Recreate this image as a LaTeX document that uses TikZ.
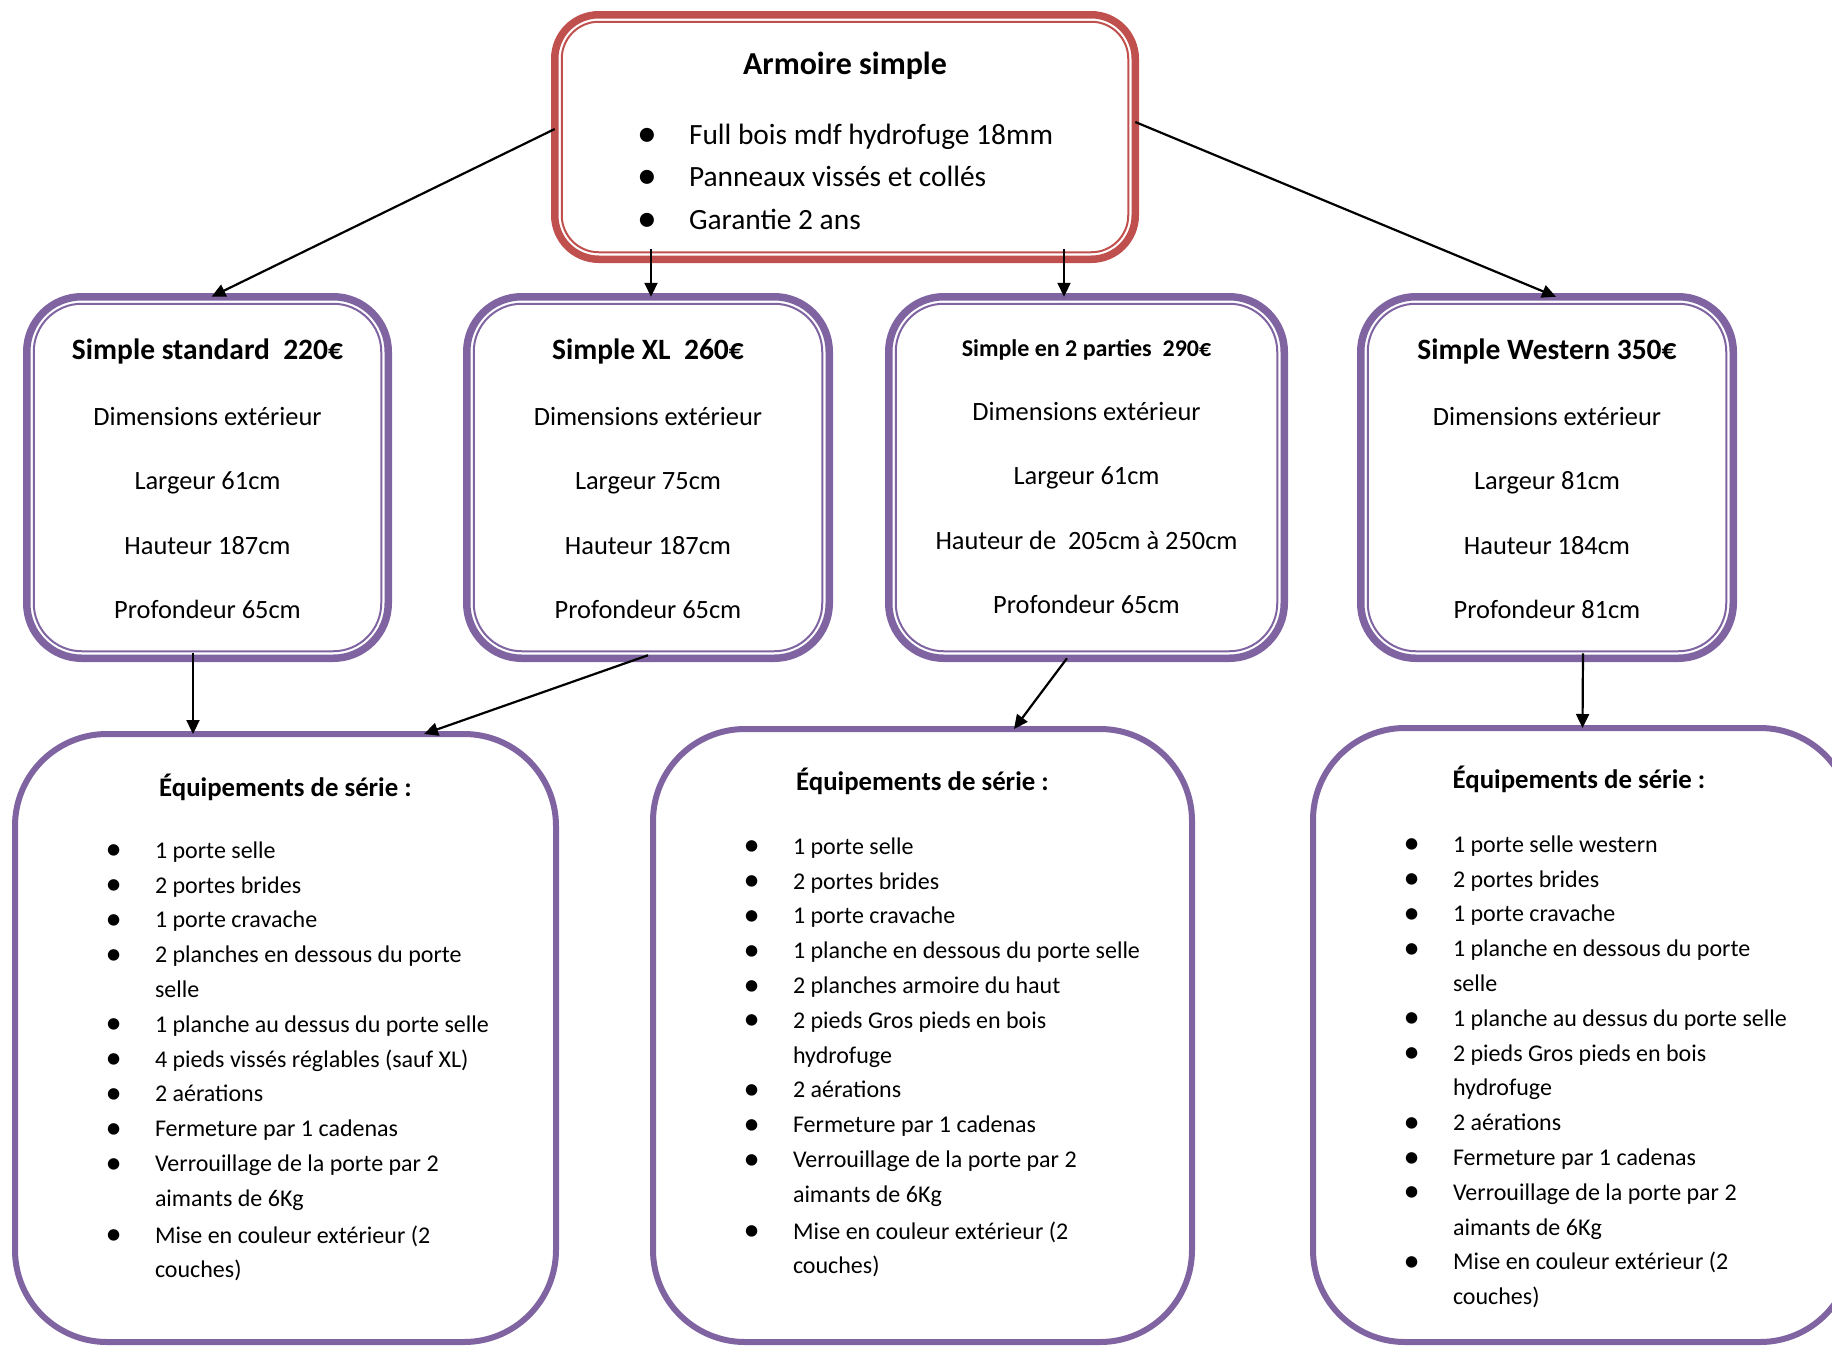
\documentclass[tikz,border=0pt]{standalone}
\usepackage{fontspec}
\setmainfont{Carlito}
\usepackage{graphicx}
\usetikzlibrary{arrows.meta,calc}
\definecolor{boxred}{HTML}{C0504D}
\definecolor{boxpurple}{HTML}{8064A2}
\newcommand{\listbul}{\raisebox{-0.06em}{\scalebox{1.35}{•}}}
\newcommand{\fsTop}{\fontsize{29.4}{42.5}\selectfont}
\newcommand{\fsMid}{\fontsize{26.4}{64.3}\selectfont}
\newcommand{\fsBot}{\fontsize{24}{34.8}\selectfont}
\begin{document}
\begin{tikzpicture}[x=1pt,y=-1pt,
  every node/.style={inner sep=0pt,outer sep=0pt},
  topbox/.style={rectangle,draw=boxred,line width=7.5pt,rounded corners=44pt},
  midbox/.style={rectangle,draw=boxpurple,line width=7.5pt,rounded corners=55pt},
  botbox/.style={rectangle,draw=boxpurple,line width=6pt,rounded corners=92pt},
  thinred/.style={draw=boxred,line width=2pt,rounded corners=37pt},
  thinpurple/.style={draw=boxpurple,line width=2pt,rounded corners=48pt},
  conn/.style={draw=black,line width=2.2pt,-{Triangle[length=14pt,width=13pt]}},
  txt/.style={anchor=mid,align=center}
]
\useasboundingbox (0,0) rectangle (1832,1347);
\clip (0,0) rectangle (1832,1347);

% ---------- boxes ----------
\node[topbox,minimum width=580.5pt,minimum height=244.5pt] (top) at (845,137) {};
\node[midbox,minimum width=361.5pt,minimum height=361.5pt] (m1) at (207.5,477.5) {};
\node[midbox,minimum width=362.5pt,minimum height=361.5pt] (m2) at (648,477.5) {};
\node[midbox,minimum width=395.5pt,minimum height=361.5pt] (m3) at (1086.5,477.5) {};
\node[midbox,minimum width=372.5pt,minimum height=361.5pt] (m4) at (1547,477.5) {};
\node[botbox,minimum width=541pt,minimum height=608pt] (b1) at (285.5,1038) {};
\node[botbox,minimum width=539pt,minimum height=613pt] (b2) at (922.5,1035.5) {};
\node[botbox,minimum width=539pt,minimum height=614pt] (b3) at (1582.5,1035) {};

% inner thin lines of the double borders
\draw[thinred] ([shift={(7,7)}]top.north west) rectangle ([shift={(-7,-7)}]top.south east);
\foreach \b in {m1,m2,m3,m4}
  \draw[thinpurple] ([shift={(7,7)}]\b.north west) rectangle ([shift={(-7,-7)}]\b.south east);

% ---------- top box text ----------
\node[txt] (toptitle) at (845,72) {\fontsize{32}{40}\selectfont\bfseries Armoire simple};
\node[anchor=mid west] (toplist) at (637,142) {\fsTop\begin{tabular}[t]{@{}p{52pt}@{}l@{}}
\listbul & Full bois mdf hydrofuge 18mm\\
\listbul & Panneaux vissés et collés\\
\listbul & Garantie 2 ans
\end{tabular}};

% ---------- middle boxes text ----------
\newcommand{\midtitle}{\fontsize{29.5}{36}\selectfont\bfseries}
\node[txt] (m1t) at (207.5,357) {\fsMid\begin{tabular}[t]{@{}c@{}}
{\midtitle Simple standard~ 220€}\\[2pt]
Dimensions extérieur\\ Largeur 61cm\\ Hauteur 187cm\\ Profondeur 65cm
\end{tabular}};
\node[txt] (m2t) at (648,357) {\fsMid\begin{tabular}[t]{@{}c@{}}
{\midtitle Simple XL~ 260€}\\[2pt]
Dimensions extérieur\\ Largeur 75cm\\ Hauteur 187cm\\ Profondeur 65cm
\end{tabular}};
\node[txt] (m3t) at (1086.5,354) {\fsMid\begin{tabular}[t]{@{}c@{}}
{\fontsize{24}{30}\selectfont\bfseries Simple en 2 parties~ 290€}\\
Dimensions extérieur\\ Largeur 61cm\\ Hauteur de~ 205cm à 250cm\\ Profondeur 65cm
\end{tabular}};
\node[txt] (m4t) at (1547,357) {\fsMid\begin{tabular}[t]{@{}c@{}}
{\midtitle Simple Western 350€}\\[2pt]
Dimensions extérieur\\ Largeur 81cm\\ Hauteur 184cm\\ Profondeur 81cm
\end{tabular}};

% ---------- bottom boxes text ----------
\newcommand{\bottitle}{\fontsize{26.8}{34}\selectfont\bfseries}
\node[txt] (b1t) at (285.5,794) {\bottitle Équipements de série :};
\node[txt] (b2t) at (922.5,788) {\bottitle Équipements de série :};
\node[txt] (b3t) at (1579,786) {\bottitle Équipements de série :};

\node[anchor=mid west] (b1l) at (105.5,856) {\fsBot\begin{tabular}[t]{@{}p{49.5pt}@{}l@{}}
\listbul & 1 porte selle\\
\listbul & 2 portes brides\\
\listbul & 1 porte cravache\\
\listbul & 2 planches en dessous du porte\\
 & selle\\
\listbul & 1 planche au dessus du porte selle\\
\listbul & 4 pieds vissés réglables (sauf XL)\\
\listbul & 2 aérations\\
\listbul & Fermeture par 1 cadenas\\
\listbul & Verrouillage de la porte par 2\\
 & aimants de 6Kg\\[2pt]
\listbul & Mise en couleur extérieur (2\\
 & couches)
\end{tabular}};

\node[anchor=mid west] (b2l) at (743.5,852) {\fsBot\begin{tabular}[t]{@{}p{49.5pt}@{}l@{}}
\listbul & 1 porte selle\\
\listbul & 2 portes brides\\
\listbul & 1 porte cravache\\
\listbul & 1 planche en dessous du porte selle\\
\listbul & 2 planches armoire du haut\\
\listbul & 2 pieds Gros pieds en bois\\
 & hydrofuge\\
\listbul & 2 aérations\\
\listbul & Fermeture par 1 cadenas\\
\listbul & Verrouillage de la porte par 2\\
 & aimants de 6Kg\\[2pt]
\listbul & Mise en couleur extérieur (2\\
 & couches)
\end{tabular}};

\node[anchor=mid west] (b3l) at (1403.5,850) {\fsBot\begin{tabular}[t]{@{}p{49.5pt}@{}l@{}}
\listbul & 1 porte selle western\\
\listbul & 2 portes brides\\
\listbul & 1 porte cravache\\
\listbul & 1 planche en dessous du porte\\
 & selle\\
\listbul & 1 planche au dessus du porte selle\\
\listbul & 2 pieds Gros pieds en bois\\
 & hydrofuge\\
\listbul & 2 aérations\\
\listbul & Fermeture par 1 cadenas\\
\listbul & Verrouillage de la porte par 2\\
 & aimants de 6Kg\\
\listbul & Mise en couleur extérieur (2\\
 & couches)
\end{tabular}};

% ---------- connectors ----------
\draw[conn] ([yshift=8pt]top.west) -- ([xshift=4pt]m1.north);
\draw[conn] ([xshift=-194pt,yshift=10pt]top.south) -- ([xshift=3pt]m2.north);
\draw[conn] ([xshift=219pt,yshift=10pt]top.south) -- ([xshift=-22.5pt]m3.north);
\draw[conn] ([yshift=15pt]top.east) -- ([xshift=9pt]m4.north);
\draw[conn] ([xshift=-14.5pt,yshift=5pt]m1.south) -- ([xshift=-92.5pt]b1.north);
\draw[conn] ([yshift=3pt]m2.south) -- ([xshift=138.5pt]b1.north);
\draw[conn] ([xshift=-19.5pt]m3.south) -- ([xshift=91.5pt]b2.north);
\draw[conn] ([xshift=36pt,yshift=5pt]m4.south) -- (b3.north);
\end{tikzpicture}
\end{document}
